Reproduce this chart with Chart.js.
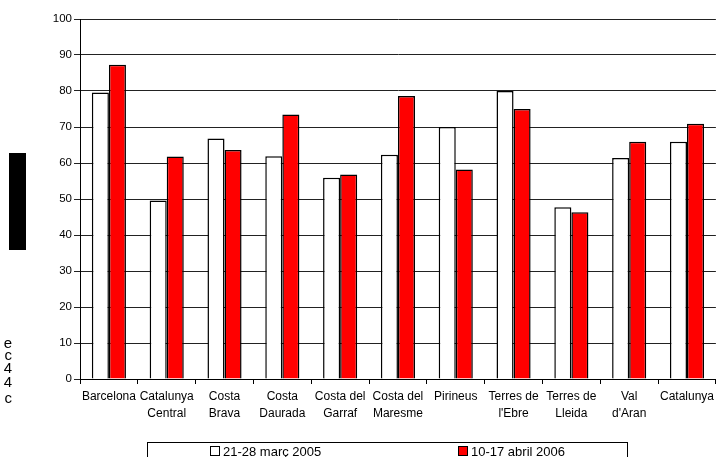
<!DOCTYPE html>
<html>
<head>
<meta charset="utf-8">
<script src="https://cdn.jsdelivr.net/npm/chart.js@4.4.1/dist/chart.umd.min.js"></script>
<style>
    body { margin: 0; background: #fff; font-family: "Liberation Sans", Arial, sans-serif; }
    #wrap { position: relative; width: 718px; height: 457px; overflow: hidden; }
    #chart { position: absolute; left: 0; top: 0; }
    .frag { position: absolute; left: 0; width: 12px; text-align: right; font-size: 15px; line-height: 13px; overflow: hidden; color: #000; }
    #blackBox { position: absolute; left: 9px; top: 153px; width: 17px; height: 97px; background: #000; }
    #legend { position: absolute; left: 147px; top: 442px; width: 481px; height: 24px; border: 1px solid #000; box-sizing: border-box; font-size: 13px; }
    .item { position: absolute; top: 1px; white-space: nowrap; }
    .swatch { display: inline-block; width: 8px; height: 8px; border: 1px solid #000; margin-right: 3px; vertical-align: 0px; }
</style>
</head>
<body>
<div id="wrap">
    <canvas id="chart" width="718" height="457"></canvas>
    <div id="blackBox"></div>
    <div class="frag" style="top:336px">e</div>
    <div class="frag" style="top:348px">c</div>
    <div class="frag" style="top:361px">4</div>
    <div class="frag" style="top:375px">4</div>
    <div class="frag" style="top:391px">c</div>
    <div id="legend"></div>
</div>
<script>
// Categories (two-line labels as in the original)
const categories = [
    ['Barcelona'], ['Catalunya', 'Central'], ['Costa', 'Brava'], ['Costa', 'Daurada'],
    ['Costa del', 'Garraf'], ['Costa del', 'Maresme'], ['Pirineus'], ['Terres de', "l'Ebre"],
    ['Terres de', 'Lleida'], ['Val', "d'Aran"], ['Catalunya']
];

const seriesNames = ['21-28 març 2005', '10-17 abril 2006'];

// Values
const values2005 = [79.6, 49.6, 66.8, 61.9, 55.9, 62.3, 70.0, 80.0, 47.7, 61.4, 65.9];
const values2006 = [87.3, 61.8, 63.6, 73.5, 56.8, 78.6, 58.2, 75.0, 46.3, 65.9, 70.9];

const yTicks = [0, 10, 20, 30, 40, 50, 60, 70, 80, 90, 100];

const colors = ['#ffffff', '#ff0000'];

// Build the legend box
const legend = document.getElementById('legend');
const legendLeft = [62, 310];
seriesNames.forEach((name, i) => {
    const item = document.createElement('div');
    item.className = 'item';
    item.style.left = legendLeft[i] + 'px';
    item.innerHTML = `<span class="swatch" style="background:${colors[i]}"></span>${name}`;
    legend.appendChild(item);
});

new Chart(document.getElementById('chart'), {
    type: 'bar',
    data: {
        labels: categories,
        datasets: [
            {
                label: seriesNames[0],
                data: values2005,
                backgroundColor: colors[0],
                borderColor: '#000',
                borderWidth: 1.5,
                categoryPercentage: 0.59,
                barPercentage: 1
            },
            {
                label: seriesNames[1],
                data: values2006,
                backgroundColor: colors[1],
                borderColor: '#000',
                borderWidth: 1.5,
                categoryPercentage: 0.59,
                barPercentage: 1
            }
        ]
    },
    options: {
        responsive: false,
        animation: false,
        layout: { padding: { top: 19, left: 0, right: 0, bottom: 0 } },
        plugins: {
            legend: { display: false },
            tooltip: { enabled: false }
        },
        scales: {
            x: {
                offset: true,
                afterFit: (scale) => { scale.height = 78; },
                grid: {
                    offset: true,
                    drawOnChartArea: false,
                    drawTicks: true,
                    tickLength: 5,
                    color: '#000'
                },
                border: { color: '#000', width: 1 },
                ticks: {
                    color: '#000',
                    padding: 4,
                    maxRotation: 0,
                    autoSkip: false,
                    font: { family: 'Liberation Sans', size: 12, lineHeight: 1.45 }
                }
            },
            y: {
                min: 0,
                max: 100,
                afterFit: (scale) => { scale.width = 80; },
                afterBuildTicks: (scale) => { scale.ticks = yTicks.map(v => ({ value: v })); },
                grid: {
                    color: '#222',
                    lineWidth: 1,
                    tickLength: 6
                },
                border: { color: '#000', width: 1 },
                ticks: {
                    color: '#000',
                    padding: 2,
                    font: { family: 'Liberation Sans', size: 11.5 }
                }
            }
        }
    }
});
</script>
</body>
</html>
